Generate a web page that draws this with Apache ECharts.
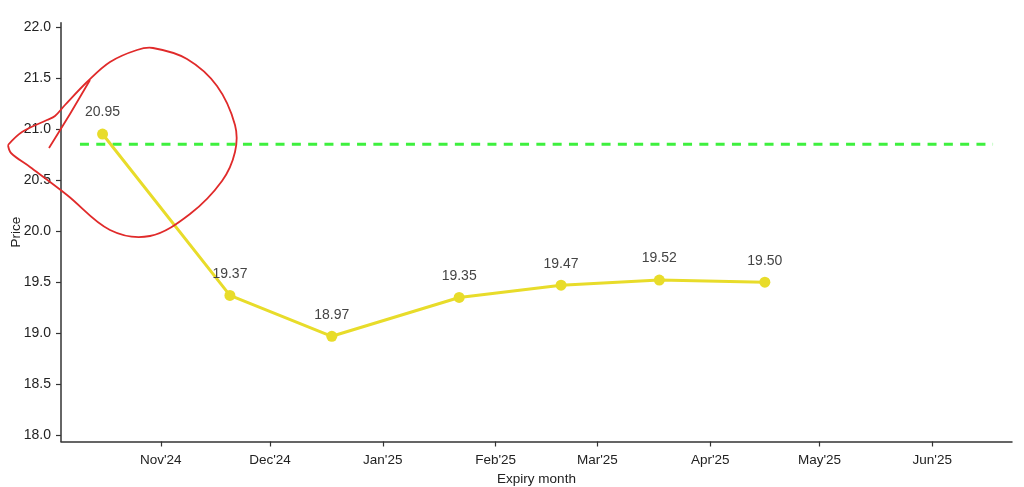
<!DOCTYPE html>
<html>
<head>
<meta charset="utf-8">
<script src="https://cdn.jsdelivr.net/npm/echarts@6/dist/echarts.min.js"></script>
<style>
html,body{margin:0;padding:0;background:#fff;}
#c{width:1024px;height:487px;}
</style>
</head>
<body>
<div id="c"></div>
<script>
// ---- data ----
const expiries = ['2024-10-16','2024-11-20','2024-12-18','2025-01-22','2025-02-19','2025-03-18','2025-04-16'];
const prices = [20.95, 19.37, 18.97, 19.35, 19.47, 19.52, 19.50];
const spotDates = ['2024-10-09 19:00','2025-06-17 17:00'];
const spotLevel = 20.85;
const xTickDates = ['2024-11-01','2024-12-01','2025-01-01','2025-02-01','2025-03-01','2025-04-01','2025-05-01','2025-06-01'];
const xTickLabels = ["Nov'24","Dec'24","Jan'25","Feb'25","Mar'25","Apr'25","May'25","Jun'25"];
const yTicks = [18.0, 18.5, 19.0, 19.5, 20.0, 20.5, 21.0, 21.5, 22.0];
const xRange = ['2024-10-04 14:00','2025-06-22 22:00'];
const yRange = [17.94, 22.04];

function toTime(s){
  const m = s.match(/(\d+)-(\d+)-(\d+)(?:\s+(\d+):(\d+))?/);
  return new Date(+m[1], +m[2]-1, +m[3], m[4]?+m[4]:0, m[5]?+m[5]:0).getTime();
}
const tickTimes = xTickDates.map(toTime);

const chart = echarts.init(document.getElementById('c'));
const font = 'Liberation Sans, Arial, sans-serif';

chart.setOption({
  backgroundColor: '#fff',
  animation: false,
  grid: {left: 61, right: 12, top: 22.7, bottom: 45.5, containLabel: false, outerBoundsMode: 'none'},
  xAxis: {
    type: 'value',
    min: toTime(xRange[0]),
    max: toTime(xRange[1]),
    name: 'Expiry month',
    nameLocation: 'middle',
    nameGap: 31,
    nameMoveOverlap: false,
    nameTextStyle: {fontFamily: font, fontSize: 13.5, color: '#222'},
    axisLine: {show: true, onZero: false, lineStyle: {color: '#333', width: 1.5}},
    axisTick: {show: true, length: 5, lineStyle: {color: '#333', width: 1.2}, customValues: tickTimes},
    axisLabel: {
      fontFamily: font, fontSize: 13.5, color: '#222', margin: 12,
      customValues: tickTimes,
      formatter: function(v){
        const i = tickTimes.indexOf(v);
        return i >= 0 ? xTickLabels[i] : '';
      }
    },
    splitLine: {show: false}
  },
  yAxis: {
    type: 'value',
    min: yRange[0],
    max: yRange[1],
    name: 'Price',
    nameLocation: 'middle',
    nameGap: 38,
    nameMoveOverlap: false,
    nameTextStyle: {fontFamily: font, fontSize: 13.5, color: '#222'},
    axisLine: {show: true, onZero: false, lineStyle: {color: '#333', width: 1.5}},
    axisTick: {show: true, length: 5, lineStyle: {color: '#333', width: 1.2}, customValues: yTicks},
    axisLabel: {
      fontFamily: font, fontSize: 14, color: '#222', margin: 10,
      customValues: yTicks,
      formatter: function(v){ return Number(v).toFixed(1); }
    },
    splitLine: {show: false}
  },
  series: [
    {
      type: 'line',
      name: 'spot',
      data: spotDates.map(d => [toTime(d), spotLevel]),
      showSymbol: false,
      silent: true,
      lineStyle: {color: '#3ef03e', width: 3, type: [9, 7.3]},
      z: 2
    },
    {
      type: 'line',
      name: 'futures',
      data: expiries.map((d, i) => [toTime(d), prices[i]]),
      symbol: 'circle',
      symbolSize: 11,
      itemStyle: {color: '#e8dc2a'},
      lineStyle: {color: '#e8dc2a', width: 3},
      label: {
        show: true, position: 'top', distance: 9,
        fontFamily: font, fontSize: 14, color: '#444',
        formatter: p => p.value[1].toFixed(2)
      },
      z: 3
    }
  ],
  graphic: [
    {
      type: 'polyline', silent: true, z: 100,
      shape: {
        smooth: 0.35,
        points: [[8,145],[22,132],[47,120],[55,116],[65,105],[87,82],[110,62],[137,50],[153,48],[187,59],[217,86],[235,125],[235,152],[222,181],[190,214],[150,236],[110,230],[67,195],[30,167],[11,153],[8,145]]
      },
      style: {stroke: '#e02a2a', lineWidth: 1.8, fill: null}
    },
    {
      type: 'polyline', silent: true, z: 100,
      shape: {smooth: 0.2, points: [[49,148],[70,114],[90,80]]},
      style: {stroke: '#e02a2a', lineWidth: 1.8, fill: null}
    }
  ]
});
</script>
</body>
</html>
